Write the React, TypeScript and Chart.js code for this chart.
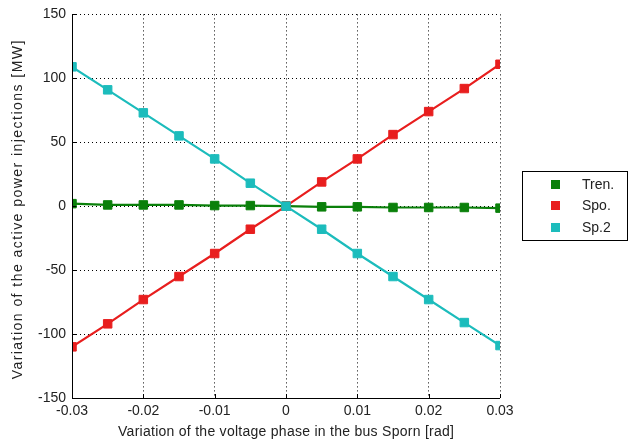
import React, { useEffect, useRef } from "react";
import { Chart, registerables } from "chart.js";

Chart.register(...registerables);

const xValues = [-0.03, -0.025, -0.02, -0.015, -0.01, -0.005, 0, 0.005, 0.01, 0.015, 0.02, 0.025, 0.03];
const trenValues = [2, 1, 1, 1, 0.5, 0.5, 0, -0.5, -0.5, -1, -1, -1, -1.5];
const spoValues = [-110, -92, -73, -55, -37, -18, 0, 19, 37, 56, 74, 92, 111];
const sp2Values = [109, 91, 73, 55, 37, 18, 0, -18, -37, -55, -73, -91, -109];
const seriesNames = ["Tren.", "Spo.", "Sp.2"];
const seriesColors = ["#0a800a", "#e81e1e", "#1cbcbc"];
const xTitle = "Variation of the voltage phase in the bus Sporn [rad]";
const yTitle = "Variation of the active power injections [MW]";

const FONT = "Liberation Sans, Arial, sans-serif";

function fitText(ctx: any, text: string, x: number, y: number, width: number) {
  ctx.letterSpacing = "0px";
  const w = ctx.measureText(text).width;
  const ls = Math.max(0, (width - w) / text.length);
  ctx.letterSpacing = ls.toFixed(2) + "px";
  ctx.fillText(text, x + ls / 2, y);
  ctx.letterSpacing = "0px";
}

export default function App() {
  const ref = useRef<HTMLCanvasElement | null>(null);
  useEffect(() => {
    if (!ref.current) return;
    const series = [trenValues, spoValues, sp2Values];
    const datasets = series.map((vals, i) => ({
      label: seriesNames[i],
      data: xValues.map((x, j) => ({ x, y: vals[j] })),
      borderColor: seriesColors[i],
      backgroundColor: seriesColors[i],
      borderWidth: 2.2,
      pointStyle: "rect" as const,
      pointRadius: 6,
      pointBorderWidth: 1,
      pointBorderColor: seriesColors[i],
      order: 2 - i,
    }));

    const decor = {
      id: "decor",
      afterDraw(chart: any) {
        const ctx = chart.ctx;
        const a = chart.chartArea;
        const xs = chart.scales.x;
        const ys = chart.scales.y;
        ctx.save();
        ctx.strokeStyle = "#000";
        ctx.lineWidth = 1;
        ctx.beginPath();
        ctx.moveTo(a.left + 0.5, a.top);
        ctx.lineTo(a.left + 0.5, a.bottom + 0.5);
        ctx.lineTo(a.right, a.bottom + 0.5);
        ctx.stroke();
        ctx.beginPath();
        xs.ticks.forEach((t: any) => {
          const px = Math.round(xs.getPixelForValue(t.value)) + 0.5;
          ctx.moveTo(px, a.bottom);
          ctx.lineTo(px, a.bottom - 4);
        });
        ys.ticks.forEach((t: any) => {
          const py = Math.round(ys.getPixelForValue(t.value)) + 0.5;
          ctx.moveTo(a.left, py);
          ctx.lineTo(a.left + 4, py);
        });
        ctx.stroke();
        ctx.fillStyle = "#222";
        ctx.font = "14px " + FONT;
        ctx.textAlign = "center";
        ctx.textBaseline = "middle";
        fitText(ctx, xTitle, (a.left + a.right) / 2, 432, 336);
        ctx.save();
        ctx.translate(18, 210);
        ctx.rotate(-Math.PI / 2);
        fitText(ctx, yTitle, 0, 0, 340);
        ctx.restore();
        ctx.fillStyle = "#fff";
        ctx.fillRect(522, 171, 106, 69);
        ctx.strokeStyle = "#000";
        ctx.strokeRect(522.5, 171.5, 105, 69);
        const ly = [184, 205, 227];
        seriesNames.forEach((n, i) => {
          ctx.fillStyle = seriesColors[i];
          ctx.fillRect(551, ly[i] - 4, 9, 9);
          ctx.fillStyle = "#222";
          ctx.textAlign = "left";
          ctx.fillText(n, 582, ly[i] + 1);
        });
        ctx.restore();
      },
    };

    const chart = new Chart(ref.current, {
      type: "line",
      data: { datasets },
      options: {
        animation: false,
        responsive: false,
        maintainAspectRatio: false,
        layout: { padding: { left: 0, top: 13, right: 141, bottom: 0 } },
        plugins: { legend: { display: false }, tooltip: { enabled: false } },
        scales: {
          x: {
            type: "linear",
            min: -0.03,
            max: 0.03,
            ticks: {
              stepSize: 0.01,
              padding: 5,
              color: "#222",
              font: { family: FONT, size: 14 },
              maxRotation: 0,
              callback: (v: any) => {
                const n = Number(Number(v).toFixed(2));
                return n === 0 ? "0" : String(n);
              },
            },
            grid: { color: "#000", lineWidth: 1, drawTicks: false } as any,
            border: { display: false, dash: [1, 3] },
            afterFit: (s: any) => { s.height = 47; },
          },
          y: {
            type: "linear",
            min: -150,
            max: 150,
            ticks: {
              stepSize: 50,
              padding: 6,
              color: "#222",
              font: { family: FONT, size: 14 },
            },
            grid: { color: "#000", lineWidth: 1, drawTicks: false } as any,
            border: { display: false, dash: [1, 3] },
            afterFit: (s: any) => { s.width = 72; },
          },
        },
      },
      plugins: [decor],
    });
    return () => chart.destroy();
  }, []);
  return (
    <div style={{ position: "fixed", left: 0, top: 0, width: 641, height: 445, background: "#fff" }}>
      <canvas ref={ref} width={641} height={445} />
    </div>
  );
}
